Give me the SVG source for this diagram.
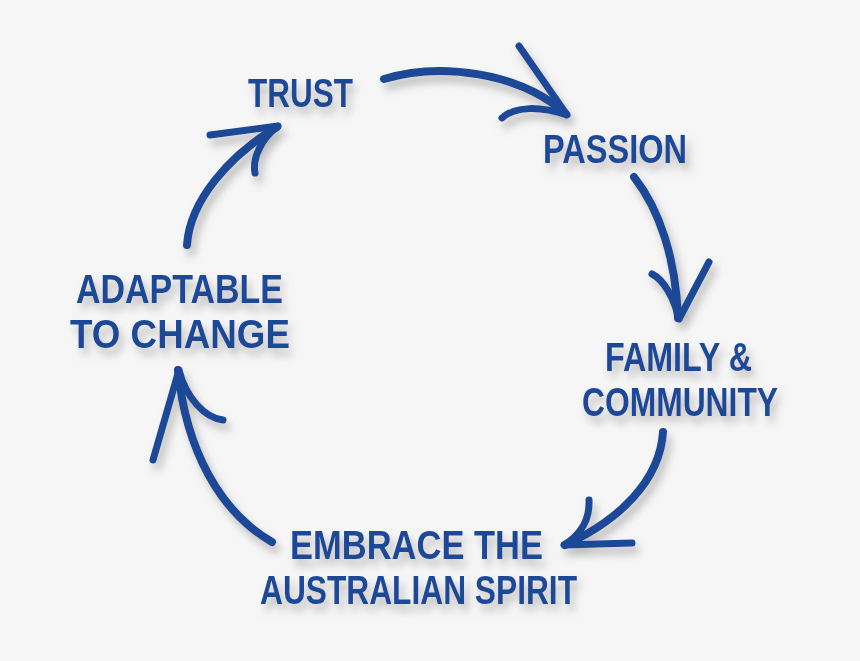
<svg xmlns="http://www.w3.org/2000/svg" width="860" height="661" viewBox="0 0 860 661">
<defs>
<filter id="sh" x="-20%" y="-20%" width="140%" height="150%">
<feDropShadow dx="4" dy="7" stdDeviation="4" flood-color="#8a8a8a" flood-opacity="0.55"/>
</filter>
<style>
.t{font-family:"Liberation Sans",Arial,sans-serif;font-weight:bold;font-size:40px;fill:#1e4897;}
.a{fill:none;stroke:#1e4897;stroke-width:8;stroke-linecap:round;stroke-linejoin:round;}
.b{fill:none;stroke:#1e4897;stroke-width:7;stroke-linecap:round;stroke-linejoin:round;}
</style>
</defs>
<rect width="860" height="661" fill="#f6f6f6"/>
<g filter="url(#sh)">
<g id="trust"><text class="t" x="248" y="107" textLength="105" lengthAdjust="spacingAndGlyphs">TRUST</text></g>
<g id="passion"><text class="t" x="543" y="163" textLength="144" lengthAdjust="spacingAndGlyphs">PASSION</text></g>
<g id="family"><text class="t" x="605" y="371" textLength="147" lengthAdjust="spacingAndGlyphs">FAMILY &amp;</text><text class="t" x="582" y="416" textLength="196" lengthAdjust="spacingAndGlyphs">COMMUNITY</text></g>
<g id="embrace"><text class="t" x="290" y="559" textLength="253" lengthAdjust="spacingAndGlyphs">EMBRACE THE</text><text class="t" x="260" y="604" textLength="317" lengthAdjust="spacingAndGlyphs">AUSTRALIAN SPIRIT</text></g>
<g id="adaptable"><text class="t" x="76" y="303" textLength="207" lengthAdjust="spacingAndGlyphs">ADAPTABLE</text><text class="t" x="70" y="348" textLength="220" lengthAdjust="spacingAndGlyphs">TO CHANGE</text></g>
<g id="connectors">
<path class="a" d="M384,79 C440,62 520,72 566,114"/>
<path class="b" d="M519,46 L567,115 M502,118 C515,106 540,106 567,115"/>
<path class="a" d="M634,177 C660,210 676,260 678,318"/>
<path class="b" d="M709,262 L679,319 M652,274 C664,280 674,298 679,319"/>
<path class="a" d="M663,432 C660,480 620,520 565,545"/>
<path class="b" d="M632,543 L564,545 M589,500 C590,520 580,535 564,545"/>
<path class="a" d="M272,542 C220,512 186,450 178,370"/>
<path class="b" d="M153,460 L179,370 M223,420 C205,418 186,398 179,370"/>
<path class="a" d="M187,245 C190,200 230,155 277,127"/>
<path class="b" d="M210,135 L278,126 M255,173 C252,158 262,138 278,126"/>
</g>
</g>
</svg>
